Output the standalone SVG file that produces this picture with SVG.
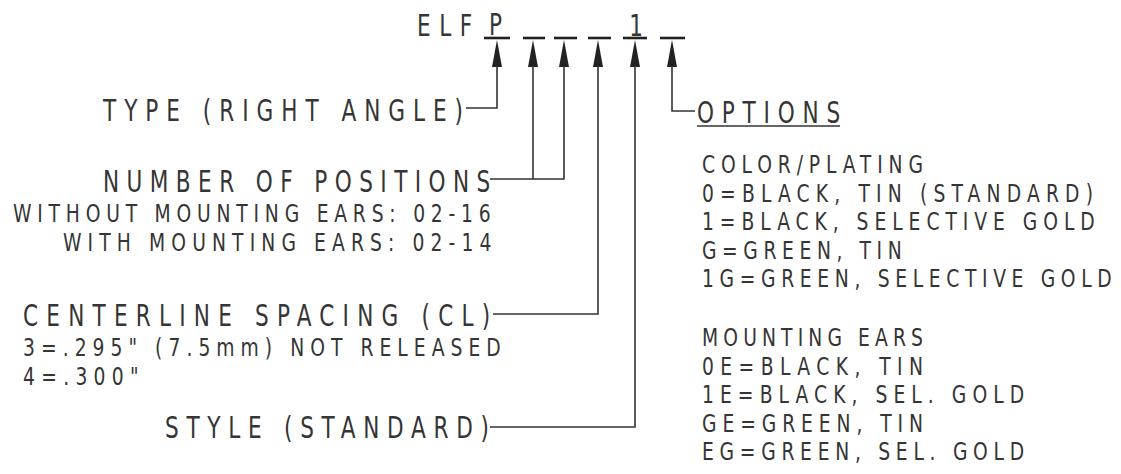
<svg xmlns="http://www.w3.org/2000/svg" width="1121" height="474" viewBox="0 0 1121 474">
<style>
text{font-family:"DejaVu Sans Condensed","Liberation Sans Narrow","Liberation Sans",sans-serif;fill:#353535}
.h{font-size:30px}
.s{font-size:24.5px}
.ln{stroke:#333;stroke-width:1.6;fill:none}
.bar{stroke:#222;stroke-width:2.6}
.ah{fill:#222}
</style>
<defs>
<path id="arr" class="ah" d="M0,40 L-5,67 L5,67 Z"/>
</defs>
<rect width="1121" height="474" fill="#fff"/>
<g id="partnumber">
<text class="h" transform="translate(417,36) scale(0.8,1)" textLength="69" lengthAdjust="spacing">ELF</text>
<text class="h" transform="translate(489,35) scale(0.8,1)" textLength="22.5" lengthAdjust="spacing">P</text>
<text class="h" text-anchor="middle" transform="translate(636,36) scale(0.8,1)">1</text>
<line class="bar" x1="484" y1="38" x2="510" y2="38"/>
<line class="bar" x1="523" y1="38" x2="545" y2="38"/>
<line class="bar" x1="554" y1="38" x2="577" y2="38"/>
<line class="bar" x1="588" y1="38" x2="611" y2="38"/>
<line class="bar" x1="623" y1="38" x2="647" y2="38"/>
<line class="bar" x1="660" y1="38" x2="685" y2="38"/>
</g>
<g id="connectors">
<use href="#arr" x="497"/>
<use href="#arr" x="533"/>
<use href="#arr" x="564"/>
<use href="#arr" x="598"/>
<use href="#arr" x="635"/>
<use href="#arr" x="672"/>
<polyline class="ln" points="497,66 497,108 466,108"/>
<polyline class="ln" points="533,66 533,179"/>
<polyline class="ln" points="564,66 564,179 490,179"/>
<polyline class="ln" points="598,66 598,314 493,314"/>
<polyline class="ln" points="635,66 635,427 490,427"/>
<polyline class="ln" points="672,66 672,111 695,111"/>
</g>
<g id="type">
<text class="h" transform="translate(103,121) scale(0.8,1)" textLength="450" lengthAdjust="spacing">TYPE (RIGHT ANGLE)</text>
</g>
<g id="positions">
<text class="h" transform="translate(103,192) scale(0.8,1)" textLength="484" lengthAdjust="spacing">NUMBER OF POSITIONS</text>
<text class="s" transform="translate(13,222) scale(0.85,1)" textLength="562" lengthAdjust="spacing">WITHOUT MOUNTING EARS: 02-16</text>
<text class="s" transform="translate(63,250.5) scale(0.85,1)" textLength="504" lengthAdjust="spacing">WITH MOUNTING EARS: 02-14</text>
</g>
<g id="spacing">
<text class="h" transform="translate(23,326) scale(0.8,1)" textLength="584" lengthAdjust="spacing">CENTERLINE SPACING (CL)</text>
<text class="s" transform="translate(23,356) scale(0.85,1)" textLength="562" lengthAdjust="spacing">3=.295" (7.5mm) NOT RELEASED</text>
<text class="s" transform="translate(23,384.5) scale(0.85,1)" textLength="136" lengthAdjust="spacing">4=.300"</text>
</g>
<g id="style">
<text class="h" transform="translate(165,438) scale(0.8,1)" textLength="405" lengthAdjust="spacing">STYLE (STANDARD)</text>
</g>
<g id="options">
<text class="h" transform="translate(697,123) scale(0.8,1)" textLength="179" lengthAdjust="spacing">OPTIONS</text>
<line class="ln" x1="697" y1="126" x2="840" y2="126"/>
<text class="s" transform="translate(702,173) scale(0.85,1)" textLength="260" lengthAdjust="spacing">COLOR/PLATING</text>
<text class="s" transform="translate(702,201.6) scale(0.85,1)" textLength="460" lengthAdjust="spacing">0=BLACK, TIN (STANDARD)</text>
<text class="s" transform="translate(702,230.2) scale(0.85,1)" textLength="462" lengthAdjust="spacing">1=BLACK, SELECTIVE GOLD</text>
<text class="s" transform="translate(702,258.8) scale(0.85,1)" textLength="235" lengthAdjust="spacing">G=GREEN, TIN</text>
<text class="s" transform="translate(702,287.4) scale(0.85,1)" textLength="482" lengthAdjust="spacing">1G=GREEN, SELECTIVE GOLD</text>
<text class="s" transform="translate(702,346) scale(0.85,1)" textLength="260" lengthAdjust="spacing">MOUNTING EARS</text>
<text class="s" transform="translate(702,374.6) scale(0.85,1)" textLength="260" lengthAdjust="spacing">0E=BLACK, TIN</text>
<text class="s" transform="translate(702,403.2) scale(0.85,1)" textLength="379" lengthAdjust="spacing">1E=BLACK, SEL. GOLD</text>
<text class="s" transform="translate(702,431.8) scale(0.85,1)" textLength="260" lengthAdjust="spacing">GE=GREEN, TIN</text>
<text class="s" transform="translate(702,460.4) scale(0.85,1)" textLength="379" lengthAdjust="spacing">EG=GREEN, SEL. GOLD</text>
</g>
</svg>
